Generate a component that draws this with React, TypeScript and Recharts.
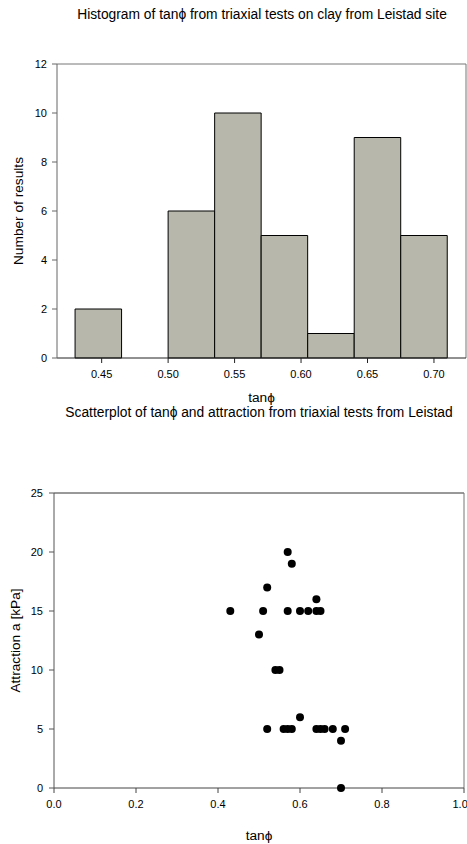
import React from "react";
import {
  ComposedChart,
  ScatterChart,
  Bar,
  Scatter,
  XAxis,
  YAxis,
  ReferenceLine,
} from "recharts";

// Histogram bins (left edge) and counts
const binStart = [0.43, 0.465, 0.5, 0.535, 0.57, 0.605, 0.64, 0.675];
const binCount = [2, 0, 6, 10, 5, 1, 9, 5];
const binWidth = 0.035;
const histTicksX = [0.45, 0.5, 0.55, 0.6, 0.65, 0.7];
const histTicksY = [0, 2, 4, 6, 8, 10, 12];

// Scatter: tan(phi) vs attraction
const tanPhi = [
  0.57, 0.58, 0.52, 0.64, 0.43, 0.51, 0.57, 0.6, 0.62, 0.64, 0.65, 0.5, 0.54,
  0.55, 0.6, 0.52, 0.56, 0.57, 0.58, 0.64, 0.65, 0.66, 0.68, 0.71, 0.7, 0.7,
];
const attraction = [
  20, 19, 17, 16, 15, 15, 15, 15, 15, 15, 15, 13, 10, 10, 6, 5, 5, 5, 5, 5, 5, 5,
  5, 5, 4, 0,
];
const scatterTicksX = [0, 0.2, 0.4, 0.6, 0.8, 1.0];
const scatterTicksY = [0, 5, 10, 15, 20, 25];

const histData = binStart.map((s, i) => ({ x: s + binWidth / 2, count: binCount[i] }));
const scatterData = tanPhi.map((t, i) => ({ x: t, y: attraction[i] }));

const FONT = "'Liberation Sans', Arial, sans-serif";
const tickStyle = { fontSize: 11, fill: "#000", fontFamily: FONT };
const labelStyle = { fontSize: 13.7, fill: "#000", fontFamily: FONT };

const HIST_DOMAIN: [number, number] = [0.4164, 0.7241];

function Title({ text, x, y }: { text: string; x: number; y: number }) {
  return (
    <div
      style={{
        position: "absolute",
        left: x,
        top: y,
        transform: "translateX(-50%)",
        whiteSpace: "nowrap",
        fontFamily: FONT,
        fontSize: 13.8,
        lineHeight: "16px",
        color: "#000",
      }}
    >
      {text}
    </div>
  );
}

export default function App() {
  return (
    <div
      style={{
        position: "absolute",
        left: 0,
        top: 0,
        width: 467,
        height: 844,
        overflow: "hidden",
        background: "#fff",
      }}
    >
      <Title text="Histogram of tanϕ from triaxial tests on clay from Leistad site" x={262} y={7} />
      <div style={{ position: "absolute", left: 0, top: 0 }}>
        <ComposedChart
          width={467}
          height={410}
          data={histData}
          margin={{ top: 64, right: 1, left: 0, bottom: 0 }}
        >
          <XAxis
            dataKey="x"
            type="number"
            domain={HIST_DOMAIN}
            ticks={histTicksX}
            tickFormatter={(v: number) => v.toFixed(2)}
            tick={tickStyle}
            tickSize={5}
            tickMargin={7}
            height={52}
            stroke="#222"
            label={{ value: "tanϕ", position: "insideBottom", offset: 8, style: labelStyle }}
          />
          <YAxis
            type="number"
            domain={[0, 12]}
            ticks={histTicksY}
            tick={tickStyle}
            tickSize={5}
            tickMargin={5}
            width={57}
            stroke="#666"
            label={{
              value: "Number of results",
              angle: -90,
              position: "insideLeft",
              offset: 18,
              style: { ...labelStyle, textAnchor: "middle" },
            }}
          />
          <ReferenceLine y={12} stroke="#777" />
          <ReferenceLine x={HIST_DOMAIN[1]} stroke="#777" />
          <Bar
            dataKey="count"
            fill="#b7b7ab"
            stroke="#000"
            strokeWidth={1}
            barSize={46.5}
            isAnimationActive={false}
          />
        </ComposedChart>
      </div>

      <Title text="Scatterplot of tanϕ and attraction from triaxial tests from Leistad" x={259} y={405} />
      <div style={{ position: "absolute", left: 0, top: 400 }}>
        <ScatterChart
          width={467}
          height={444}
          margin={{ top: 93, right: 3, left: 0, bottom: 0 }}
        >
          <XAxis
            dataKey="x"
            type="number"
            domain={[0, 1]}
            ticks={scatterTicksX}
            tickFormatter={(v: number) => v.toFixed(1)}
            tick={tickStyle}
            tickSize={5}
            tickMargin={7}
            height={56}
            stroke="#444"
            label={{ value: "tanϕ", position: "insideBottom", offset: 4, style: labelStyle }}
          />
          <YAxis
            dataKey="y"
            type="number"
            domain={[0, 25]}
            ticks={scatterTicksY}
            tick={tickStyle}
            tickSize={5}
            tickMargin={6}
            width={54}
            stroke="#555"
            label={{
              value: "Attraction a [kPa]",
              angle: -90,
              position: "insideLeft",
              offset: 15,
              style: { ...labelStyle, textAnchor: "middle" },
            }}
          />
          <ReferenceLine y={25} stroke="#333" />
          <ReferenceLine x={1} stroke="#777" />
          <Scatter
            data={scatterData}
            fill="#000"
            isAnimationActive={false}
            shape={(p: any) => <circle cx={p.cx} cy={p.cy} r={4} fill="#000" />}
          />
        </ScatterChart>
      </div>
    </div>
  );
}
